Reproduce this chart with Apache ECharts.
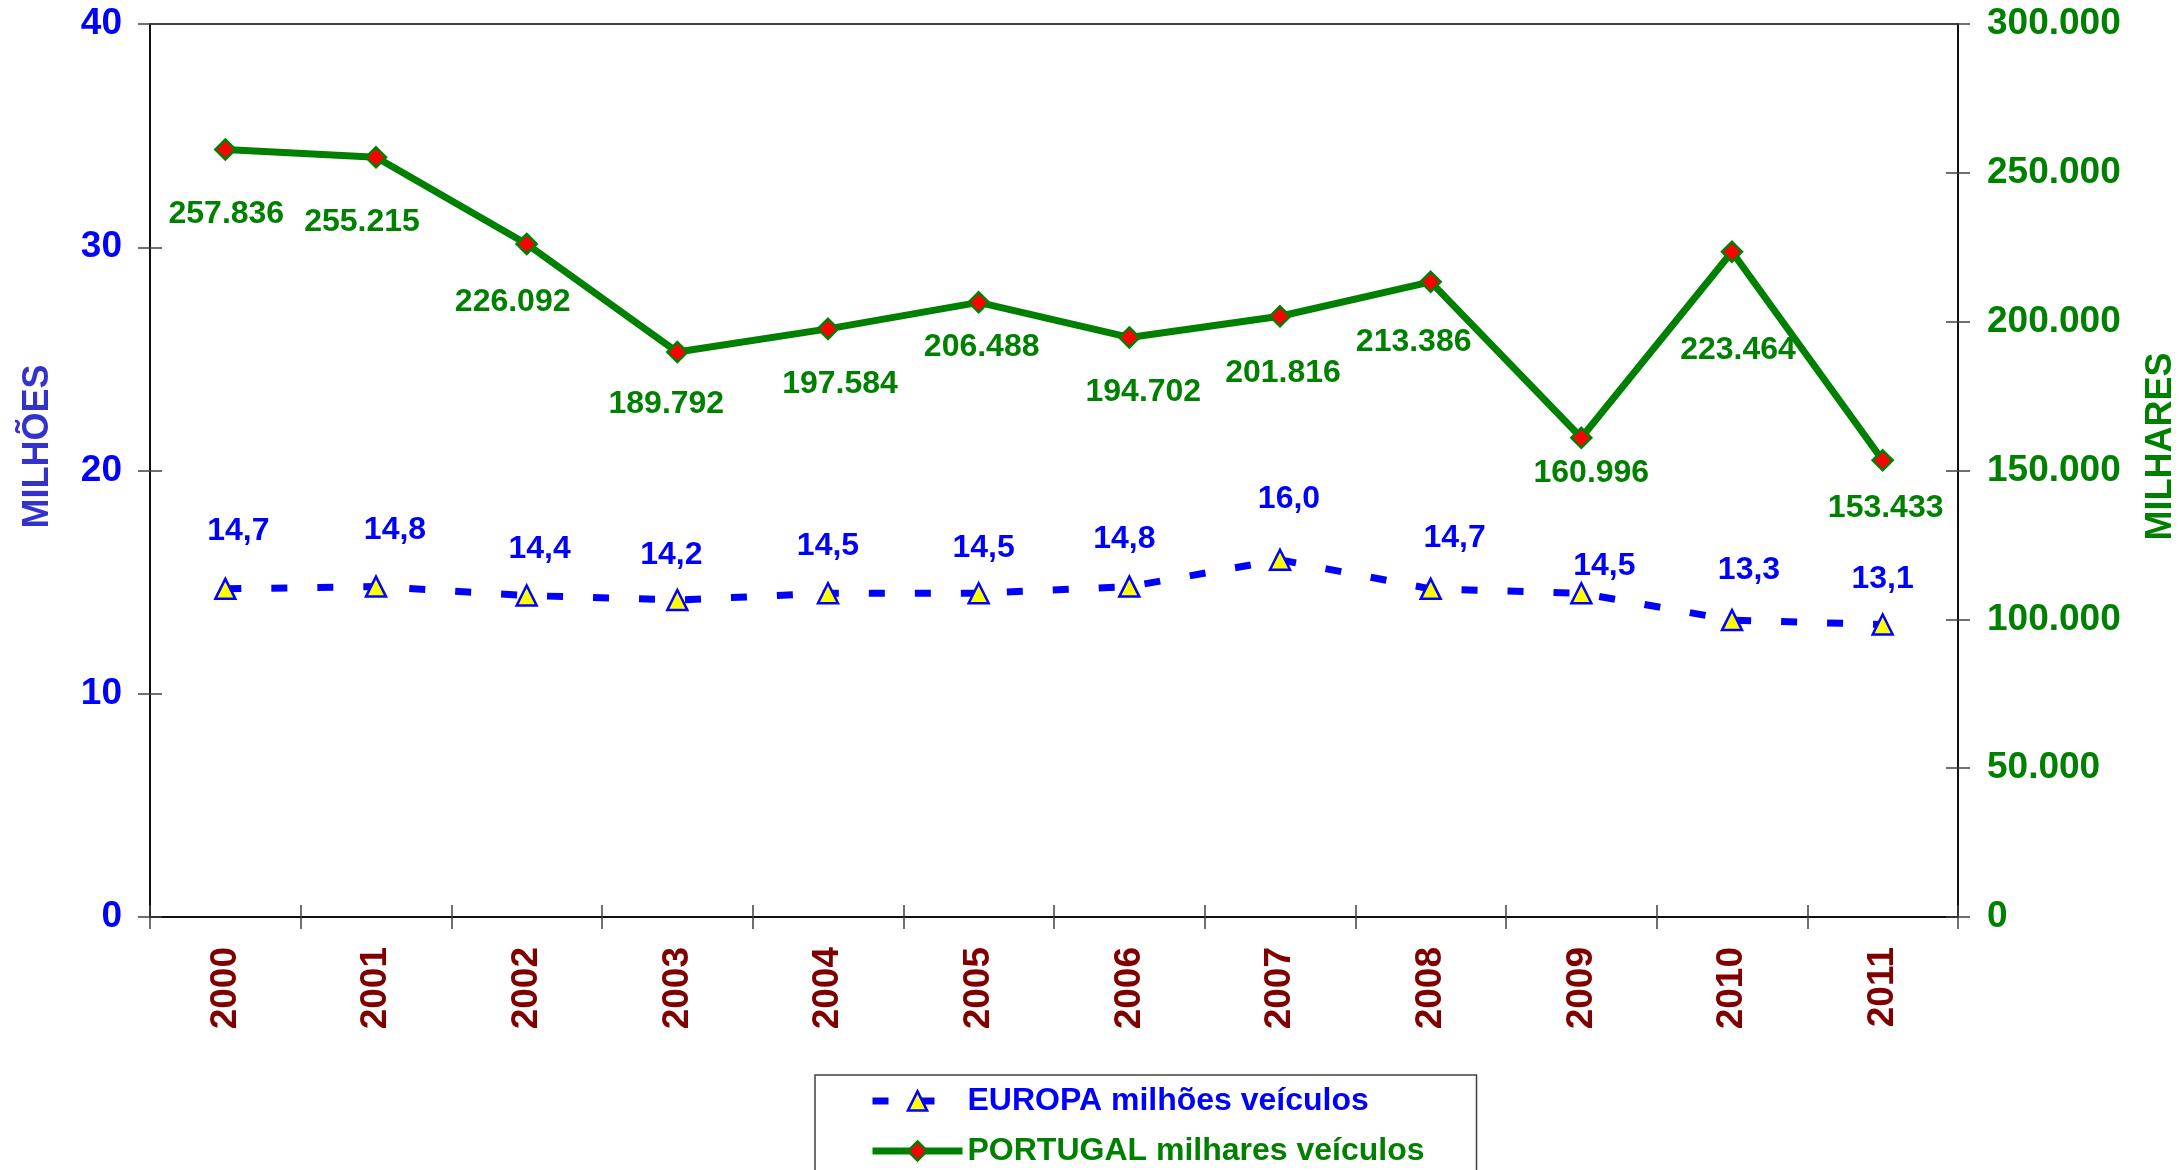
<!DOCTYPE html>
<html>
<head>
<meta charset="utf-8">
<script src="https://cdn.jsdelivr.net/npm/echarts@6/dist/echarts.min.js"></script>
<style>
  html, body { margin: 0; padding: 0; background: #ffffff; }
  #chart { width: 2179px; height: 1170px; }
</style>
</head>
<body>
<div id="chart"></div>
<script>
// Vehicle production: Europe (millions) vs Portugal (thousands)
const years = ['2000', '2001', '2002', '2003', '2004', '2005', '2006', '2007', '2008', '2009', '2010', '2011'];
const europa = [14.7, 14.8, 14.4, 14.2, 14.5, 14.5, 14.8, 16.0, 14.7, 14.5, 13.3, 13.1];
const portugal = [257836, 255215, 226092, 189792, 197584, 206488, 194702, 201816, 213386, 160996, 223464, 153433];

// hand-placed value labels: shift [dx, dy] of each label from its marker
const europaLabelShift = [[13, -58], [19, -56], [13, -46], [-6, -45], [0, -47], [5, -45],
                          [-5, -47], [9, -61], [24, -51], [23, -27], [17, -50], [0, -45]];
const portugalLabelShift = [[1, 65], [-14, 65], [-14, 58], [-11, 52], [12, 55], [3, 45],
                            [14, 55], [3, 57], [-17, 60], [10, 35], [6, 98], [3, 48]];

const FONT = '"Liberation Sans", Arial, sans-serif';
const BLUE = '#0000ff';
const GREEN = '#008000';

// Portuguese number formatting
const fmtThousands = v => String(Math.round(v)).replace(/\B(?=(\d{3})+(?!\d))/g, '.');
const fmtDecimal = v => v.toFixed(1).replace('.', ',');

const withLabelShift = (values, shifts) =>
  values.map((v, i) => ({ value: v, label: { offset: shifts[i] } }));

const chart = echarts.init(document.getElementById('chart'), null, { renderer: 'canvas' });

const tickStyle = { color: '#404040', width: 1.5 };
const axisLineStyle = { color: '#000000', width: 1.5 };

const europaLine = { color: BLUE, width: 7, type: [16, 30], cap: 'butt' };
const portugalLine = { color: GREEN, width: 7 };
const europaItem = { color: '#ffff00', borderColor: BLUE, borderWidth: 2.5 };
const portugalItem = { color: '#ff0000', borderColor: GREEN, borderWidth: 2.5 };

chart.setOption({
  backgroundColor: '#ffffff',
  animation: false,
  textStyle: { fontFamily: FONT },
  grid: {
    left: 150, right: 221, top: 24, bottom: 253,
    outerBoundsMode: 'none', containLabel: false,
    show: true, borderColor: '#000000', borderWidth: 1.5, backgroundColor: 'transparent'
  },
  legend: {
    left: 815, top: 1075, height: 400,
    orient: 'vertical',
    selectedMode: false,
    itemWidth: 90, itemHeight: 24, itemGap: 18,
    padding: [10, 52, 60, 54],
    borderColor: '#404040', borderWidth: 1.5,
    textStyle: { fontFamily: FONT, fontWeight: 'bold', fontSize: 32 },
    data: [
      { name: 'EUROPA milhões veículos', textStyle: { color: BLUE }, lineStyle: europaLine, itemStyle: europaItem },
      { name: 'PORTUGAL milhares veículos', textStyle: { color: GREEN }, lineStyle: portugalLine, itemStyle: portugalItem }
    ]
  },
  xAxis: [
    {
      type: 'category', data: years, position: 'bottom', boundaryGap: true,
      axisLine: { show: true, lineStyle: axisLineStyle },
      axisTick: { show: true, length: 12, inside: false, lineStyle: tickStyle },
      axisLabel: {
        rotate: 90, margin: 30, color: '#800000',
        fontFamily: FONT, fontWeight: 'bold', fontSize: 37
      },
      splitLine: { show: false }
    },
    {
      type: 'category', data: years, position: 'bottom', boundaryGap: true,
      axisLine: { show: false },
      axisTick: { show: true, length: 12, inside: true, lineStyle: tickStyle },
      axisLabel: { show: false },
      splitLine: { show: false }
    }
  ],
  yAxis: [
    {
      type: 'value', position: 'left', min: 0, max: 40, interval: 10,
      name: 'MILHÕES', nameLocation: 'middle', nameRotate: 90, nameGap: 94,
      nameTextStyle: { color: '#3333cc', fontFamily: FONT, fontWeight: 'bold', fontSize: 36, padding: [0, 0, 0, 48] },
      axisLine: { show: true, lineStyle: axisLineStyle },
      axisTick: { show: true, length: 12, lineStyle: tickStyle },
      axisLabel: { margin: 28, color: BLUE, fontFamily: FONT, fontWeight: 'bold', fontSize: 37 },
      splitLine: { show: false }
    },
    {
      type: 'value', position: 'right', min: 0, max: 300000, interval: 50000,
      name: 'MILHARES', nameLocation: 'middle', nameRotate: 90, nameGap: 185,
      nameTextStyle: { color: GREEN, fontFamily: FONT, fontWeight: 'bold', fontSize: 36, padding: [0, 0, 0, 48] },
      axisLine: { show: true, lineStyle: axisLineStyle },
      axisTick: { show: true, length: 12, lineStyle: tickStyle },
      axisLabel: {
        margin: 29, color: GREEN, fontFamily: FONT, fontWeight: 'bold', fontSize: 37,
        formatter: fmtThousands
      },
      splitLine: { show: false }
    },
    {
      type: 'value', position: 'left', min: 0, max: 40, interval: 10,
      axisLine: { show: false },
      axisTick: { show: true, length: 12, inside: true, lineStyle: tickStyle },
      axisLabel: { show: false },
      splitLine: { show: false }
    },
    {
      type: 'value', position: 'right', min: 0, max: 300000, interval: 50000,
      axisLine: { show: false },
      axisTick: { show: true, length: 12, inside: true, lineStyle: tickStyle },
      axisLabel: { show: false },
      splitLine: { show: false }
    }
  ],
  series: [
    {
      name: 'EUROPA milhões veículos',
      type: 'line',
      xAxisIndex: 0, yAxisIndex: 0,
      data: withLabelShift(europa, europaLabelShift),
      symbol: 'triangle', symbolSize: 20,
      lineStyle: europaLine,
      itemStyle: europaItem,
      label: {
        show: true, position: 'inside',
        color: BLUE, fontFamily: FONT, fontWeight: 'bold', fontSize: 32,
        formatter: p => fmtDecimal(p.value)
      },
      z: 3
    },
    {
      name: 'PORTUGAL milhares veículos',
      type: 'line',
      xAxisIndex: 0, yAxisIndex: 1,
      data: withLabelShift(portugal, portugalLabelShift),
      symbol: 'diamond', symbolSize: 20,
      lineStyle: portugalLine,
      itemStyle: portugalItem,
      label: {
        show: true, position: 'inside',
        color: GREEN, fontFamily: FONT, fontWeight: 'bold', fontSize: 32,
        formatter: p => fmtThousands(p.value)
      },
      z: 4
    }
  ]
});
</script>
</body>
</html>
